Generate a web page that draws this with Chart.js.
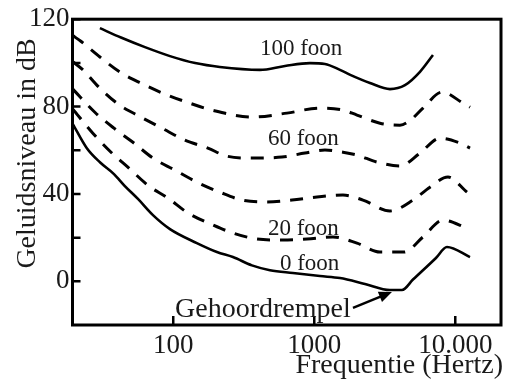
<!DOCTYPE html>
<html>
<head>
<meta charset="utf-8">
<script src="https://cdn.jsdelivr.net/npm/chart.js@4.4.0/dist/chart.umd.min.js"></script>
<style>
  html, body { margin: 0; padding: 0; background: #fff; }
</style>
</head>
<body>
<canvas id="chart" width="506" height="383"></canvas>
<script>
// Equal-loudness curves: [frequency (Hz), level (dB)]
const foon100 = [[30.2,115.9],[42.6,111.6],[63,107.2],[94.8,103.1],[143,99.9],[214,98.1],[412,96.8],[620,98.6],[932,99.9],[1191,99.5],[1521,96.8],[1800,94.5],[2483,90.8],[3443,88.0],[4399,89.8],[5618,95.9],[6948,103.6]];
const foon80 = [[19.4,112.5],[22,110],[30.2,102.7],[42.6,95.5],[60,90.5],[84.5,86.1],[125,82.0],[188,78.4],[367,75.2],[640,77.0],[1098,79.3],[1598,78.4],[2008,76.1],[2924,72.4],[4053,71.5],[4771,73.6],[5902,79.3],[8050,86.6],[11340,81.6],[12720,79.7]];
const foon60 = [[19.4,100.5],[22.7,97],[30.2,88.4],[41.2,80.9],[59,75.2],[83.2,70.1],[121,64.6],[176,61.0],[240,57.3],[361,56.4],[590,56.9],[859,58.7],[1191,60.1],[1598,59.1],[2008,57.8],[2784,54.6],[4053,52.8],[5618,58.7],[7788,65.5],[10800,63.3],[12720,61.0]];
const foon40 = [[19.4,88],[27.8,77.4],[38,70.1],[52.6,63.3],[71.8,56.4],[102.8,50.9],[147,45.4],[214,40.8],[307,37.2],[462,36.3],[695,37.2],[1045,38.6],[1598,39.5],[2215,37.2],[3443,32.2],[5012,37.2],[6616,43.1],[8878,47.7],[12110,40.8]];
const foon20 = [[19.4,78.8],[26.9,67.8],[36.2,59.1],[48.5,51.8],[67.2,43.6],[91.7,38.1],[127,31.3],[191,25.8],[265,22.1],[392,19.4],[600,18.9],[888,19.4],[1357,20.3],[2008,17.5],[2924,13.4],[4327,13.4],[5902,20.3],[8180,28.0],[12110,24.4]];
const foon0 = [[19.4,72],[24.4,60.9],[30.2,54.5],[38,49.1],[45.4,43.6],[56.2,37.7],[71.8,30.3],[94.8,23.9],[147,17.5],[204,13.4],[265,11.1],[361,7.3],[485,5.1],[706,3.8],[1098,2.4],[1521,1.5],[2288,-1.2],[3443,-4.0],[4188,-4.0],[5012,0.8],[7295,10.7],[8733,15.7],[12720,11.1]];

const xTickValues = [100, 1000, 10000];
const xTickLabels = ['100', '1000', '10.000'];
const yTickValues = [0, 40, 80, 120];
const yMarkValues = [0, 20, 40, 60, 80, 100, 120];

// text placed on the chart, anchored in data units
const curveLabels = [
  { text: '100 foon', f: 412, db: 103.5 },
  { text: '60 foon', f: 469, db: 62.4 },
  { text: '20 foon', f: 469, db: 21.2 },
  { text: '0 foon', f: 571, db: 5.2 }
];
const thresholdLabel = { text: 'Gehoordrempel', f: 103, db: -16.3 };
const thresholdArrow = { from: [1882, -12.2], to: [3556, -4.9] };

const SERIF = '"Liberation Serif", "DejaVu Serif", serif';
const INK = '#1a1a1a';

const toPoints = arr => arr.map(([f, db]) => ({ x: f, y: db }));

function curve(arr, dashed) {
  return {
    data: toPoints(arr),
    borderColor: '#000',
    borderWidth: dashed ? 3 : 2.6,
    borderDash: dashed ? [13, 10] : [],
    pointRadius: 0,
    cubicInterpolationMode: 'monotone',
    fill: false
  };
}

const decorations = {
  id: 'decorations',
  afterDraw(chart) {
    const { ctx, chartArea: a, scales: { x, y } } = chart;
    ctx.save();

    // frame
    ctx.strokeStyle = '#000';
    ctx.lineWidth = 3;
    ctx.strokeRect(a.left, a.top, a.right - a.left, a.bottom - a.top);

    // inward tick marks
    ctx.lineWidth = 2.5;
    ctx.beginPath();
    yMarkValues.forEach(v => {
      const py = y.getPixelForValue(v);
      ctx.moveTo(a.left, py);
      ctx.lineTo(a.left + 8, py);
    });
    xTickValues.forEach(v => {
      const px = x.getPixelForValue(v);
      ctx.moveTo(px, a.bottom);
      ctx.lineTo(px, a.bottom - 9);
    });
    ctx.stroke();

    ctx.fillStyle = INK;
    ctx.textBaseline = 'alphabetic';

    // curve labels
    ctx.font = '23px ' + SERIF;
    ctx.textAlign = 'left';
    curveLabels.forEach(l => {
      ctx.fillText(l.text, x.getPixelForValue(l.f), y.getPixelForValue(l.db));
    });

    // threshold label and arrow
    ctx.font = '28px ' + SERIF;
    ctx.fillText(thresholdLabel.text, x.getPixelForValue(thresholdLabel.f), y.getPixelForValue(thresholdLabel.db));
    const x0 = x.getPixelForValue(thresholdArrow.from[0]);
    const y0 = y.getPixelForValue(thresholdArrow.from[1]);
    const x1 = x.getPixelForValue(thresholdArrow.to[0]);
    const y1 = y.getPixelForValue(thresholdArrow.to[1]);
    const ang = Math.atan2(y1 - y0, x1 - x0);
    const head = 13;
    ctx.strokeStyle = '#000';
    ctx.lineWidth = 2.5;
    ctx.beginPath();
    ctx.moveTo(x0, y0);
    ctx.lineTo(x1 - head * 0.8 * Math.cos(ang), y1 - head * 0.8 * Math.sin(ang));
    ctx.stroke();
    ctx.fillStyle = '#000';
    ctx.beginPath();
    ctx.moveTo(x1, y1);
    ctx.lineTo(x1 - head * Math.cos(ang) + 5.5 * Math.sin(ang), y1 - head * Math.sin(ang) - 5.5 * Math.cos(ang));
    ctx.lineTo(x1 - head * Math.cos(ang) - 5.5 * Math.sin(ang), y1 - head * Math.sin(ang) + 5.5 * Math.cos(ang));
    ctx.closePath();
    ctx.fill();

    // axis titles
    ctx.fillStyle = INK;
    ctx.font = '28px ' + SERIF;
    ctx.textAlign = 'right';
    ctx.fillText('Frequentie (Hertz)', 503, 373);

    ctx.translate(35, 153.5);
    ctx.rotate(-Math.PI / 2);
    ctx.textAlign = 'center';
    ctx.fillText('Geluidsniveau in dB', 0, 0);

    ctx.restore();
  }
};

new Chart(document.getElementById('chart'), {
  type: 'line',
  data: {
    datasets: [
      curve(foon100, false),
      curve(foon80, true),
      curve(foon60, true),
      curve(foon40, true),
      curve(foon20, true),
      curve(foon0, false)
    ]
  },
  options: {
    responsive: false,
    animation: false,
    devicePixelRatio: 1,
    layout: { padding: { top: 19, right: 5, left: 0, bottom: 0 } },
    plugins: {
      legend: { display: false },
      tooltip: { enabled: false }
    },
    scales: {
      x: {
        type: 'logarithmic',
        min: 19.3,
        max: 21100,
        grid: { display: false, drawTicks: false },
        border: { display: false },
        afterBuildTicks: s => { s.ticks = xTickValues.map(v => ({ value: v })); },
        afterFit: s => { s.height = 58; },
        ticks: {
          autoSkip: false,
          maxRotation: 0,
          padding: 5,
          color: INK,
          font: { family: SERIF, size: 27 },
          callback: (v, i) => xTickLabels[i]
        }
      },
      y: {
        type: 'linear',
        min: -20,
        max: 120,
        grid: { display: false, drawTicks: false },
        border: { display: false },
        afterBuildTicks: s => { s.ticks = yTickValues.map(v => ({ value: v })); },
        afterFit: s => { s.width = 72.5; },
        ticks: {
          padding: 3,
          color: INK,
          font: { family: SERIF, size: 27 },
          callback: v => String(v)
        }
      }
    }
  },
  plugins: [decorations]
});
</script>
</body>
</html>
